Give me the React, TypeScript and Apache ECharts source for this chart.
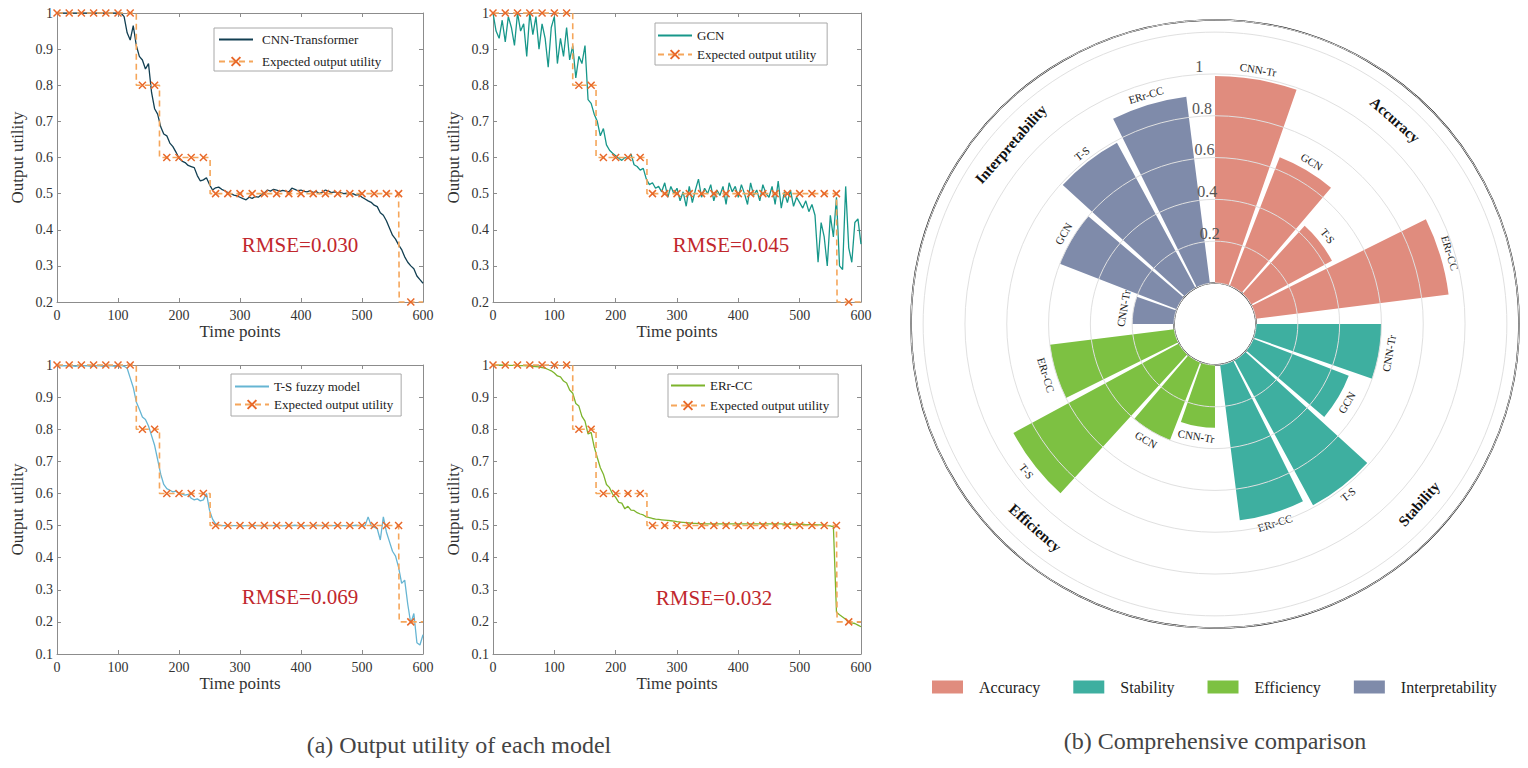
import React, { useEffect, useRef } from 'react';
import * as echarts from 'echarts';

const FONT = "'Liberation Serif', 'Times New Roman', Times, serif";

// ---------- (a) output utility series: one value every 5 time points (t = 0..600) ----------
const TIME_STEP = 5;
const cnnTransformer = [
  1, 1, 1, 1, 1, 1, 1, 1, 1, 1,
  1, 1, 1, 1, 1, 1, 1, 1, 1, 1,
  1, 1, 0.99, 0.945, 0.925, 0.965, 0.91, 0.88, 0.87, 0.845,
  0.86, 0.78, 0.735, 0.72, 0.685, 0.665, 0.66, 0.64, 0.63, 0.615,
  0.598, 0.59, 0.586, 0.578, 0.575, 0.572, 0.55, 0.535, 0.538, 0.544,
  0.525, 0.51, 0.516, 0.518, 0.512, 0.508, 0.503, 0.5, 0.496, 0.494,
  0.49, 0.486, 0.483, 0.49, 0.487, 0.492, 0.49, 0.497, 0.502, 0.51,
  0.507, 0.512, 0.51, 0.506, 0.509, 0.507, 0.505, 0.515, 0.512, 0.508,
  0.51, 0.506, 0.505, 0.508, 0.503, 0.506, 0.5, 0.504, 0.51, 0.507,
  0.503, 0.505, 0.502, 0.503, 0.5, 0.501, 0.498, 0.5, 0.496, 0.497,
  0.49, 0.485, 0.48, 0.476, 0.468, 0.464, 0.447, 0.44, 0.425, 0.405,
  0.385, 0.374, 0.358, 0.345, 0.325, 0.31, 0.3, 0.292, 0.272, 0.262,
  0.252,
];
const gcn = [
  1, 0.95, 0.93, 0.98, 0.92, 0.99, 0.96, 0.91, 1, 0.95,
  0.97, 0.88, 1, 0.94, 0.99, 0.9, 0.97, 0.93, 0.85, 0.96,
  0.99, 0.86, 0.93, 0.88, 0.96, 0.87, 0.91, 0.82, 0.88, 0.86,
  0.91, 0.76, 0.75, 0.72, 0.7, 0.66, 0.68, 0.635, 0.62, 0.612,
  0.605, 0.598, 0.592, 0.6, 0.597, 0.61, 0.58, 0.575, 0.565, 0.57,
  0.54, 0.525, 0.53, 0.515, 0.52, 0.505, 0.53, 0.49, 0.52, 0.5,
  0.515, 0.48, 0.505, 0.465, 0.52, 0.475, 0.51, 0.54, 0.49, 0.515,
  0.5, 0.525, 0.48, 0.51, 0.495, 0.52, 0.47, 0.53, 0.505, 0.52,
  0.49, 0.525, 0.5, 0.47, 0.53, 0.495, 0.51, 0.48, 0.525, 0.5,
  0.49, 0.52, 0.47, 0.535, 0.46, 0.505, 0.475, 0.51, 0.465, 0.49,
  0.475, 0.46, 0.48, 0.45, 0.47, 0.44, 0.31, 0.42, 0.38, 0.3,
  0.44, 0.38, 0.49, 0.3, 0.29, 0.52, 0.35, 0.31, 0.42, 0.43,
  0.36,
];
const tsFuzzy = [
  0.998, 0.997, 0.998, 0.997, 0.998, 0.997, 0.996, 0.997, 0.998, 0.997,
  0.997, 0.996, 0.997, 0.998, 0.997, 0.996, 0.997, 0.998, 0.997, 0.996,
  0.997, 0.999, 0.996, 0.99, 0.96, 0.93, 0.885, 0.862, 0.838, 0.83,
  0.81, 0.78, 0.75, 0.705, 0.66, 0.628, 0.615, 0.61, 0.605, 0.607,
  0.6, 0.598, 0.595, 0.597, 0.585, 0.58, 0.583, 0.577, 0.58, 0.6,
  0.548, 0.52, 0.505, 0.502, 0.5, 0.5, 0.499, 0.5, 0.5, 0.5,
  0.5, 0.499, 0.5, 0.5, 0.501, 0.5, 0.5, 0.499, 0.5, 0.5,
  0.5, 0.5, 0.501, 0.5, 0.499, 0.5, 0.5, 0.5, 0.501, 0.5,
  0.5, 0.499, 0.5, 0.5, 0.5, 0.501, 0.5, 0.5, 0.499, 0.5,
  0.5, 0.5, 0.501, 0.5, 0.5, 0.499, 0.5, 0.5, 0.501, 0.5,
  0.5, 0.499, 0.527, 0.5, 0.495, 0.49, 0.455, 0.527, 0.48, 0.45,
  0.42, 0.405, 0.37, 0.32, 0.33, 0.255, 0.195, 0.226, 0.135, 0.128,
  0.16,
];
const errCC = [
  1, 1, 1, 1, 1, 0.999, 0.999, 0.999, 0.998, 0.998,
  0.998, 0.997, 0.997, 0.996, 0.995, 0.994, 0.992, 0.99, 0.986, 0.982,
  0.975, 0.966, 0.963, 0.95, 0.944, 0.922, 0.912, 0.88, 0.872, 0.84,
  0.825, 0.785, 0.79, 0.745, 0.712, 0.68, 0.66, 0.628, 0.618, 0.598,
  0.588, 0.572, 0.57, 0.552, 0.56, 0.548, 0.547, 0.54, 0.536, 0.533,
  0.527, 0.525, 0.522, 0.52, 0.519, 0.518, 0.517, 0.516, 0.515, 0.514,
  0.512, 0.511, 0.51, 0.509, 0.508, 0.507, 0.507, 0.506, 0.506, 0.505,
  0.505, 0.505, 0.505, 0.505, 0.505, 0.505, 0.505, 0.505, 0.505, 0.505,
  0.505, 0.505, 0.505, 0.505, 0.505, 0.505, 0.505, 0.505, 0.505, 0.505,
  0.505, 0.505, 0.505, 0.505, 0.505, 0.504, 0.504, 0.504, 0.504, 0.504,
  0.504, 0.504, 0.503, 0.503, 0.503, 0.503, 0.502, 0.502, 0.501, 0.5,
  0.499, 0.496, 0.23, 0.222, 0.215, 0.208, 0.2, 0.197, 0.195, 0.19,
  0.185,
];

// expected output utility (markers every 20 time points + step changes)
const expectedMarkerTimes = [0, 20, 40, 60, 80, 100, 120, 140, 160, 180, 200, 220, 240, 260, 280, 300, 320, 340, 360, 380, 400, 420, 440, 460, 480, 500, 520, 540, 560, 580];
const expectedMarkerValues = [1, 1, 1, 1, 1, 1, 1, 0.8, 0.8, 0.6, 0.6, 0.6, 0.6, 0.5, 0.5, 0.5, 0.5, 0.5, 0.5, 0.5, 0.5, 0.5, 0.5, 0.5, 0.5, 0.5, 0.5, 0.5, 0.5, 0.2];
const expectedStepTimes = [130, 168, 251, 561];
const expectedStepFrom = [1, 0.8, 0.6, 0.5];
const expectedStepTo = [0.8, 0.6, 0.5, 0.2];
const expectedEnd = [600, 0.2];

const panelNames = ['CNN-Transformer', 'GCN', 'T-S fuzzy model', 'ERr-CC'];
const panelRmse = ['RMSE=0.030', 'RMSE=0.045', 'RMSE=0.069', 'RMSE=0.032'];
const panelYMin = [0.2, 0.2, 0.1, 0.1];
const xTicks = { min: 0, max: 600, interval: 100 };

// ---------- (b) comprehensive comparison ----------
const groups = ['Accuracy', 'Stability', 'Efficiency', 'Interpretability'];
const models = ['CNN-Tr', 'GCN', 'T-S', 'ERr-CC'];
const accuracy = [0.99, 0.66, 0.44, 0.93];
const stability = [0.6, 0.49, 0.79, 0.75];
const efficiency = [0.3, 0.4, 0.9, 0.6];
const interpretability = [0.2, 0.6, 0.79, 0.9];
const groupValues = [accuracy, stability, efficiency, interpretability];
const radiusTicks = [0.2, 0.4, 0.6, 0.8, 1];

const lineColors = ['#123F52', '#17978A', '#66B5D3', '#7DB42C'];
const groupColors = ['#E08C7E', '#3EAFA0', '#7DC142', '#7F8BAA'];
const EXP_LINE = '#F5A65B';
const EXP_MARK = '#E8692A';

const CAT_GAP = 0.08;
const BAR_GAP = 0.104;

const panelLayout = [
  { grid: { left: 57, top: 13, width: 366, height: 289 }, rmse: [300, 245],
    legend: { left: 214, top: 28, padding: [5, 11, 3, 4], itemGap: 9, textPad: 4 } },
  { grid: { left: 493, top: 13, width: 368, height: 289 }, rmse: [731, 245],
    legend: { left: 655, top: 23, padding: [6, 11, 4, 2], itemGap: 6, textPad: 0 } },
  { grid: { left: 57, top: 365, width: 366, height: 289 }, rmse: [300, 597],
    legend: { left: 231, top: 374, padding: [6, 8, 5, 3], itemGap: 5, textPad: 0 } },
  { grid: { left: 493, top: 365, width: 368, height: 289 }, rmse: [714, 598],
    legend: { left: 668, top: 374, padding: [5, 9, 5, 2], itemGap: 7, textPad: 0 } },
];

function buildExpected() {
  const pts: any[] = [];
  expectedMarkerTimes.forEach((t, i) => pts.push({ value: [t, expectedMarkerValues[i]] }));
  expectedStepTimes.forEach((t, i) => {
    pts.push({ value: [t, expectedStepFrom[i]], symbol: 'none' });
    pts.push({ value: [t, expectedStepTo[i]], symbol: 'none' });
  });
  pts.push({ value: expectedEnd, symbol: 'none' });
  return pts.sort((a, b) => a.value[0] - b.value[0]);
}

function buildOption() {
  const series: any[] = [];
  const xAxis: any[] = [];
  const yAxis: any[] = [];
  const legends: any[] = [];
  const grids: any[] = [];
  const graphics: any[] = [];
  const modelData = [cnnTransformer, gcn, tsFuzzy, errCC];
  const axisLineStyle = { color: '#8c8c8c', width: 1 };

  panelNames.forEach((name, i) => {
    const L = panelLayout[i];
    grids.push({ ...L.grid, show: false });
    const xBase = {
      type: 'value', gridIndex: i, ...xTicks,
      axisLine: { show: true, onZero: false, lineStyle: axisLineStyle },
      axisTick: { show: true, inside: true, length: 4, lineStyle: axisLineStyle },
      splitLine: { show: false },
    };
    xAxis.push({
      ...xBase, position: 'bottom', name: 'Time points', nameLocation: 'middle', nameGap: 21,
      nameTextStyle: { fontFamily: FONT, fontSize: 17, color: '#333' },
      axisLabel: { fontFamily: FONT, fontSize: 14, color: '#333', margin: 6 },
    });
    xAxis.push({ ...xBase, position: 'top', axisLabel: { show: false } });
    const yBase = {
      type: 'value', gridIndex: i, min: panelYMin[i], max: 1, interval: 0.1,
      axisLine: { show: true, onZero: false, lineStyle: axisLineStyle },
      axisTick: { show: true, inside: true, length: 4, lineStyle: axisLineStyle },
      splitLine: { show: false },
    };
    yAxis.push({
      ...yBase, position: 'left', name: 'Output utility', nameLocation: 'middle', nameGap: 31,
      nameTextStyle: { fontFamily: FONT, fontSize: 17, color: '#333' },
      axisLabel: {
        fontFamily: FONT, fontSize: 14, color: '#333', margin: 4,
        formatter: (v: number) => String(Math.round(v * 10) / 10),
      },
    });
    yAxis.push({ ...yBase, position: 'right', axisLabel: { show: false } });

    series.push({
      type: 'line', name, xAxisIndex: 2 * i, yAxisIndex: 2 * i,
      data: modelData[i].map((v, k) => [k * TIME_STEP, v]),
      symbol: 'none', lineStyle: { color: lineColors[i], width: 1.3 },
      itemStyle: { color: lineColors[i] }, z: 2,
    });
    series.push({
      type: 'line', name: 'Expected output utility', xAxisIndex: 2 * i, yAxisIndex: 2 * i,
      data: buildExpected(),
      symbol: 'path://M0,0L10,10M10,0L0,10', symbolSize: 7, showAllSymbol: true,
      lineStyle: { color: EXP_LINE, width: 1.6, type: [6, 4] },
      itemStyle: { color: EXP_MARK, borderColor: EXP_MARK, borderWidth: 1.5 },
      clip: false, z: 3,
    });

    legends.push({
      data: [{ name, itemStyle: { opacity: 0 } }, 'Expected output utility'], orient: 'vertical',
      left: L.legend.left, top: L.legend.top, padding: L.legend.padding, itemGap: L.legend.itemGap,
      itemWidth: 34, itemHeight: 11, backgroundColor: '#fff', borderColor: '#a8a8a8', borderWidth: 1,
      selectedMode: false,
      textStyle: { fontFamily: FONT, fontSize: 13, color: '#222', padding: [0, 0, 0, L.legend.textPad] },
    });

    graphics.push({
      type: 'text', x: L.rmse[0], y: L.rmse[1], silent: true,
      style: { text: panelRmse[i], fill: '#C1272D', fontFamily: FONT, fontSize: 21, align: 'center', verticalAlign: 'middle' },
    });
  });

  // polar bars
  models.forEach((m, k) => {
    series.push({
      type: 'bar', coordinateSystem: 'polar', name: m,
      data: groupValues.map((arr, c) => ({ value: arr[k], itemStyle: { color: groupColors[c] } })),
      barGap: (BAR_GAP * 100).toFixed(1) + '%', barCategoryGap: (CAT_GAP * 100).toFixed(1) + '%',
      z: 2,
    });
  });

  // bar labels (model names) placed through the polar scales
  const labelData: any[] = [];
  groupValues.forEach((arr, c) => arr.forEach((v, k) => labelData.push([v, c, k])));
  series.push({
    type: 'custom', coordinateSystem: 'polar', name: 'barLabels', silent: true, z: 5,
    data: labelData,
    renderItem: (params: any, api: any) => {
      const v = api.value(0), c = api.value(1), k = api.value(2);
      const cs = params.coordSys;
      const p = api.coord([v, c]);
      const dx = p[0] - cs.cx, dy = cs.cy - p[1];
      const r = Math.sqrt(dx * dx + dy * dy);
      const mid = Math.atan2(dy, dx) * 180 / Math.PI;
      const band = 360 / groups.length;
      const catGap = band * CAT_GAP;
      const n = models.length;
      const w = (band - catGap) / (n + (n - 1) * BAR_GAP);
      const ang = mid + band / 2 - catGap / 2 - w / 2 - k * w * (1 + BAR_GAP);
      const R = r + 10;
      const a = ang * Math.PI / 180;
      let rot = ang - 90;
      while (rot < -90) rot += 180;
      while (rot > 90) rot -= 180;
      return {
        type: 'text', x: cs.cx + R * Math.cos(a), y: cs.cy - R * Math.sin(a), rotation: rot * Math.PI / 180,
        style: { text: models[k], fontFamily: FONT, fontSize: 11, fill: '#222', align: 'center', verticalAlign: 'middle' },
      };
    },
  });

  // group labels
  series.push({
    type: 'custom', coordinateSystem: 'polar', name: 'groupLabels', silent: true, z: 5,
    data: groups.map((g, c) => [1.105, c]),
    renderItem: (params: any, api: any) => {
      const c = api.value(1);
      const cs = params.coordSys;
      const p = api.coord([api.value(0), c]);
      const ang = Math.atan2(cs.cy - p[1], p[0] - cs.cx) * 180 / Math.PI;
      let rot = ang - 90;
      while (rot < -90) rot += 180;
      while (rot > 90) rot -= 180;
      return {
        type: 'text', x: p[0], y: p[1], rotation: rot * Math.PI / 180,
        style: { text: groups[c], fontFamily: FONT, fontSize: 15, fontWeight: 'bold', fill: '#111', align: 'center', verticalAlign: 'middle' },
      };
    },
  });

  // legend entries for the groups
  groups.forEach((g, c) => {
    series.push({ type: 'scatter', coordinateSystem: 'polar', name: g, data: [], itemStyle: { color: groupColors[c], opacity: 1 } });
  });
  legends.push({
    data: groups, left: 932, top: 679, padding: 0, itemWidth: 31, itemHeight: 13, itemGap: 33, icon: 'rect',
    selectedMode: false,
    textStyle: { fontFamily: FONT, fontSize: 16, color: '#222', padding: [0, 0, 0, 11] },
  });

  graphics.push({
    type: 'text', x: 459, y: 745, silent: true,
    style: { text: '(a) Output utility of each model', fill: '#444', fontFamily: FONT, fontSize: 24, align: 'center', verticalAlign: 'middle' },
  });
  graphics.push({
    type: 'text', x: 1215, y: 741, silent: true,
    style: { text: '(b) Comprehensive comparison', fill: '#444', fontFamily: FONT, fontSize: 24, align: 'center', verticalAlign: 'middle' },
  });

  return {
    animation: false,
    backgroundColor: '#fff',
    textStyle: { fontFamily: FONT },
    grid: grids,
    xAxis,
    yAxis,
    polar: { center: [1215, 324], radius: [41, 304] },
    angleAxis: {
      type: 'category', data: groups, startAngle: 90 + 45 * CAT_GAP, clockwise: true,
      axisLine: { show: true, lineStyle: { color: '#111', width: 1.6 } },
      axisTick: { show: false }, axisLabel: { show: false }, splitLine: { show: false },
    },
    radiusAxis: {
      type: 'value', min: 0, max: 1.258, interval: 0.2,
      axisLine: { show: false }, axisTick: { show: false },
      axisLabel: {
        fontFamily: FONT, fontSize: 16, color: '#555', margin: 0, align: 'center', verticalAlign: 'bottom',
        formatter: (v: number) => (radiusTicks.some((t) => Math.abs(t - v) < 1e-6) ? String(Math.round(v * 10) / 10) : ''),
      },
      splitLine: { show: true, showMinLine: false, lineStyle: { color: '#e0e0e0', width: 1 } },
      z: 10,
    },
    legend: legends,
    series,
    graphic: graphics,
  };
}

export default function App() {
  const ref = useRef<HTMLDivElement>(null);
  useEffect(() => {
    if (!ref.current) return;
    const chart = echarts.init(ref.current, undefined, { renderer: 'svg' });
    chart.setOption(buildOption() as any);
    return () => chart.dispose();
  }, []);
  return (
    <div
      ref={ref}
      style={{ position: 'absolute', left: 0, top: 0, width: 1528, height: 768, background: '#fff' }}
    />
  );
}
